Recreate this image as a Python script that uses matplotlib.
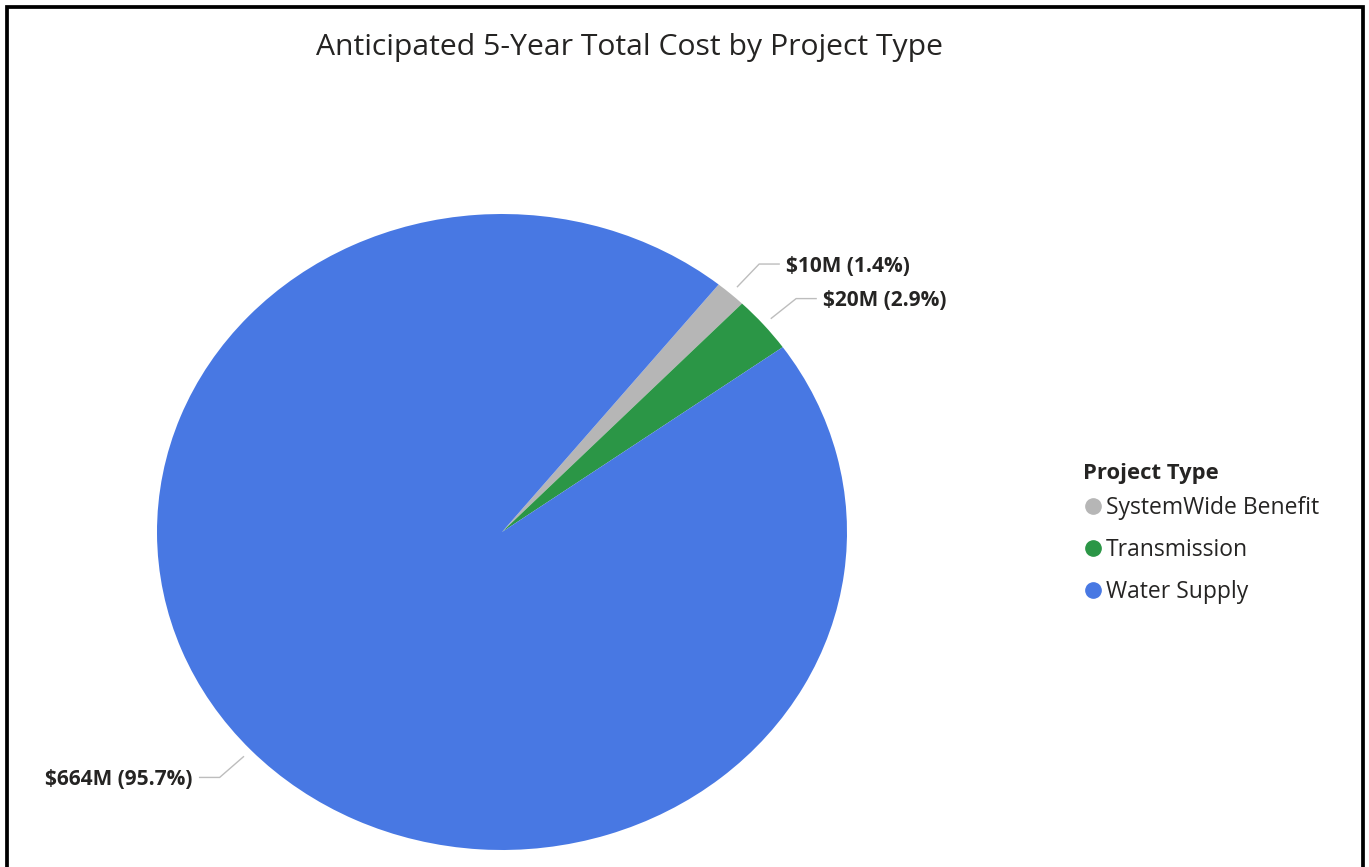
import numpy as np
import matplotlib
matplotlib.use("Agg")
import matplotlib.pyplot as plt
from matplotlib.patches import Rectangle
from matplotlib.lines import Line2D

plt.rcParams['font.family'] = ['Open Sans', 'DejaVu Sans']

categories = ["SystemWide Benefit", "Transmission", "Water Supply"]
values = [10, 20, 664]  # $M
value_labels = ["$10M", "$20M", "$664M"]
colors = ["#B6B6B6", "#2B9646", "#4878E3"]
title = "Anticipated 5-Year Total Cost by Project Type"
legend_title = "Project Type"

W, H = 1369, 867
fig = plt.figure(figsize=(W / 100, H / 100), dpi=100)
fig.patch.set_facecolor("white")

# pie axes (ellipse: rx 345, ry 318, centre 502,532)
cx, cy, rx, ry = 502, 532, 345, 318
ax = fig.add_axes([(cx - rx) / W, (H - cy - ry) / H, 2 * rx / W, 2 * ry / H])
wedges, _ = ax.pie(values, colors=colors, startangle=51.1, counterclock=False,
                   radius=1.0, wedgeprops=dict(linewidth=0))
ax.set_aspect('auto')
ax.set_xlim(-1, 1)
ax.set_ylim(-1, 1)
ax.axis('off')

total = sum(values)
dx_px = 1.0 / rx  # one pixel in x data units
for w, v, lab in zip(wedges, values, value_labels):
    ang = np.deg2rad((w.theta1 + w.theta2) / 2)
    c, s = np.cos(ang), np.sin(ang)
    x0, y0 = 1.03 * c, 1.03 * s
    x1, y1 = 1.125 * c, 1.125 * s
    sign = 1 if c >= 0 else -1
    x2 = x1 + sign * 20 * dx_px
    ax.plot([x0, x1, x2], [y0, y1, y1], color="#BDBDBD", lw=1.0, clip_on=False)
    pct = v / total * 100
    ax.text(x2 + sign * 7 * dx_px, y1 - 2 / ry, f"{lab} ({pct:.1f}%)",
            ha='left' if sign > 0 else 'right', va='center',
            fontsize=15, fontweight='bold', color="#252423")

fig.text(629.5 / W, 1 - 47 / H, title, ha='center', va='center',
         fontsize=21.7, color="#252423")

# legend title
fig.text(1083 / W, 1 - 473 / H, legend_title, ha='left', va='center',
         fontsize=15.8, fontweight='bold', color="#252423")

handles = [Line2D([], [], marker='o', linestyle='none', markersize=11,
                  markerfacecolor=col, markeredgecolor=col) for col in colors]
leg = fig.legend(handles, categories,
                 loc='center left', bbox_to_anchor=(1086.5 / W, 1 - 550 / H),
                 frameon=False, fontsize=16.5,
                 handlelength=0.55, handletextpad=0.29, labelspacing=0.79,
                 borderaxespad=0, borderpad=0)
for t in leg.get_texts():
    t.set_color("#252423")

fig.add_artist(Rectangle((7 / W, -0.02), (1362.5 - 7) / W, 1.02 - 7 / H,
                         transform=fig.transFigure, fill=False,
                         edgecolor='black', linewidth=2.7))

fig.savefig("out.png", dpi=100, facecolor="white")
